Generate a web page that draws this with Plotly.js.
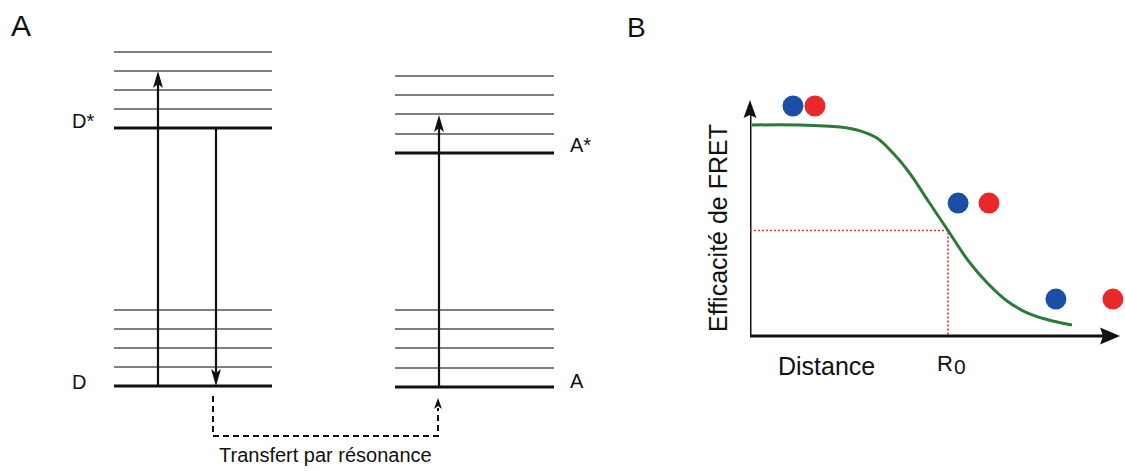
<!DOCTYPE html>
<html><head><meta charset="utf-8">
<script src="https://cdn.plot.ly/plotly-3.0.1.min.js"></script>
<style>html,body{margin:0;padding:0;background:#fff}#chart{width:1125px;height:471px}</style>
</head><body><div id="chart"></div>
<script>
// ---------- Panel A : energy-level diagram (diagram units, top = higher energy) ----------
const donorExcitedLevels   = [52, 71, 90, 109, 128];   // last = D*
const donorGroundLevels    = [310, 329, 348, 367, 386]; // last = D
const acceptorExcitedLevels= [76, 95, 114, 134, 153];  // last = A*
const acceptorGroundLevels = [310, 329, 348, 368, 387]; // last = A
const donorSpan    = [114, 272];
const acceptorSpan = [395, 554];
const absorption   = {x: 158, from: 386, to: 71};
const emission     = {x: 216, from: 128, to: 386};
const acceptorExc  = {x: 439, from: 387, to: 115};
const transferX    = [213, 213, 438, 438];
const transferY    = [396, 436, 436, 408];
const transferTip  = [438, 398];
const levelLabels  = ['D*', 'D', 'A*', 'A'];
const panelLabels  = ['A', 'B'];

// ---------- Panel B : FRET efficiency vs distance (R0 = 1) ----------
const distance       = [0.01, 0.25, 0.455, 0.556, 0.641, 0.722, 0.80, 0.90, 1.0, 1.10, 1.20, 1.30, 1.40, 1.50, 1.626];
const fretEfficiency = [1.0, 1.0, 0.99, 0.972, 0.938, 0.867, 0.78, 0.64, 0.5, 0.36, 0.25, 0.165, 0.11, 0.078, 0.052];
const R0 = 1.0, effAtR0 = 0.5;
const donorDotX    = [0.217, 1.051, 1.545];
const acceptorDotX = [0.328, 1.207, 1.833];
const dotY         = [1.090, 0.630, 0.175];
const axisEndX = 1.869, axisEndY = 1.118;

// panel B frame (pixels)
const BX0 = 750, BPX = 198, BY0 = 336, BPY = 211;
const W = 1125, H = 471;
const toPxX = r => BX0 + r * BPX;
const toPxY = e => BY0 - e * BPY;

const FONT = 'Liberation Sans, Arial, Helvetica, sans-serif';
const traces = [];

function levelTraces(levels, span) {
  const thin = {x: [], y: []};
  levels.slice(0, -1).forEach(v => { thin.x.push(span[0], span[1], null); thin.y.push(v, v, null); });
  const last = levels[levels.length - 1];
  traces.push({type: 'scatter', mode: 'lines', x: thin.x, y: thin.y, line: {color: '#555', width: 1.7}, hoverinfo: 'skip', xaxis: 'x', yaxis: 'y'});
  traces.push({type: 'scatter', mode: 'lines', x: [span[0], span[1]], y: [last, last], line: {color: '#111', width: 2.8}, hoverinfo: 'skip', xaxis: 'x', yaxis: 'y'});
}
levelTraces(donorExcitedLevels, donorSpan);
levelTraces(donorGroundLevels, donorSpan);
levelTraces(acceptorExcitedLevels, acceptorSpan);
levelTraces(acceptorGroundLevels, acceptorSpan);

const shapes = [];
function head(tx, ty, dx, dy, len, hw, notch) {
  const bx = tx - dx * len, by = ty - dy * len;
  const px = -dy, py = dx;
  const nx = tx - dx * (len - notch), ny = ty - dy * (len - notch);
  shapes.push({type: 'path', xref: 'x', yref: 'y', fillcolor: '#111', line: {width: 0},
    path: `M${tx},${ty} L${bx + px * hw},${by + py * hw} L${nx},${ny} L${bx - px * hw},${by - py * hw} Z`});
}
[absorption, emission, acceptorExc].forEach(a => {
  const dir = a.to < a.from ? -1 : 1;
  traces.push({type: 'scatter', mode: 'lines', x: [a.x, a.x], y: [a.from, a.to - dir * 10], line: {color: '#111', width: 2.2}, hoverinfo: 'skip', xaxis: 'x', yaxis: 'y'});
  head(a.x, a.to, 0, dir, 17, 5, 4);
});
traces.push({type: 'scatter', mode: 'lines', x: transferX, y: transferY, line: {color: '#111', width: 2, dash: '6px,4px'}, hoverinfo: 'skip', xaxis: 'x', yaxis: 'y'});
head(transferTip[0], transferTip[1], 0, -1, 11, 4, 3);

// Panel B axes (arrows)
traces.push({type: 'scatter', mode: 'lines', x: [0, 0], y: [-0.005, axisEndY - 0.07], line: {color: '#111', width: 3}, hoverinfo: 'skip', xaxis: 'x2', yaxis: 'y2'});
traces.push({type: 'scatter', mode: 'lines', x: [-0.005, axisEndX - 0.08], y: [0, 0], line: {color: '#111', width: 3}, hoverinfo: 'skip', xaxis: 'x2', yaxis: 'y2'});
head(toPxX(0), toPxY(axisEndY), 0, -1, 18, 6.5, 3);
head(toPxX(axisEndX), toPxY(0), 1, 0, 20, 8.5, 3);

// R0 guides
traces.push({type: 'scatter', mode: 'lines', x: [0, R0, R0], y: [effAtR0, effAtR0, 0], line: {color: '#e0301e', width: 1.6, dash: '2px,2px'}, hoverinfo: 'skip', xaxis: 'x2', yaxis: 'y2'});
// FRET curve
traces.push({type: 'scatter', mode: 'lines', x: distance, y: fretEfficiency, line: {color: '#2b7a3b', width: 3, shape: 'spline', smoothing: 1}, hoverinfo: 'skip', xaxis: 'x2', yaxis: 'y2'});
// donor / acceptor pairs
traces.push({type: 'scatter', mode: 'markers', x: acceptorDotX, y: dotY, marker: {color: '#e8282b', size: 21, line: {width: 0}}, hoverinfo: 'skip', xaxis: 'x2', yaxis: 'y2'});
traces.push({type: 'scatter', mode: 'markers', x: donorDotX, y: dotY, marker: {color: '#1b4fa5', size: 21, line: {width: 0}}, hoverinfo: 'skip', xaxis: 'x2', yaxis: 'y2'});

function txt(text, x, y, size, extra) {
  return Object.assign({text, x, y, xref: 'x', yref: 'y', showarrow: false, xanchor: 'center', yanchor: 'middle',
    font: {family: FONT, size, color: '#111'}}, extra || {});
}
const annotations = [
  txt(panelLabels[0], 21, 25, 30),
  txt(panelLabels[1], 636, 27, 28),
  txt(levelLabels[0], 83, 121, 20),
  txt(levelLabels[1], 79, 382, 20),
  txt(levelLabels[2], 580, 145, 20),
  txt(levelLabels[3], 577, 381, 20),
  txt('Transfert par résonance', 325, 455, 20),
  txt('Efficacité de FRET', 718, 228, 25, {textangle: -90}),
  txt('Distance', 826, 366, 25),
  txt('R', 945, 363, 22),
  txt('0', 960, 366, 21)
];

const hidden = {visible: false, showgrid: false, zeroline: false, fixedrange: true};
const layout = {
  width: W, height: H, margin: {l: 0, r: 0, t: 0, b: 0},
  paper_bgcolor: '#fff', plot_bgcolor: 'rgba(0,0,0,0)', showlegend: false,
  xaxis: Object.assign({domain: [0, 1], range: [0, W]}, hidden),
  yaxis: Object.assign({domain: [0, 1], range: [H, 0]}, hidden),
  xaxis2: Object.assign({domain: [BX0 / W, 1], range: [0, (W - BX0) / BPX], anchor: 'y2'}, hidden),
  yaxis2: Object.assign({domain: [0, 1], range: [-(H - BY0) / BPY, BY0 / BPY], anchor: 'x2'}, hidden),
  shapes, annotations
};
Plotly.newPlot('chart', traces, layout, {staticPlot: true, displayModeBar: false});
</script></body></html>
